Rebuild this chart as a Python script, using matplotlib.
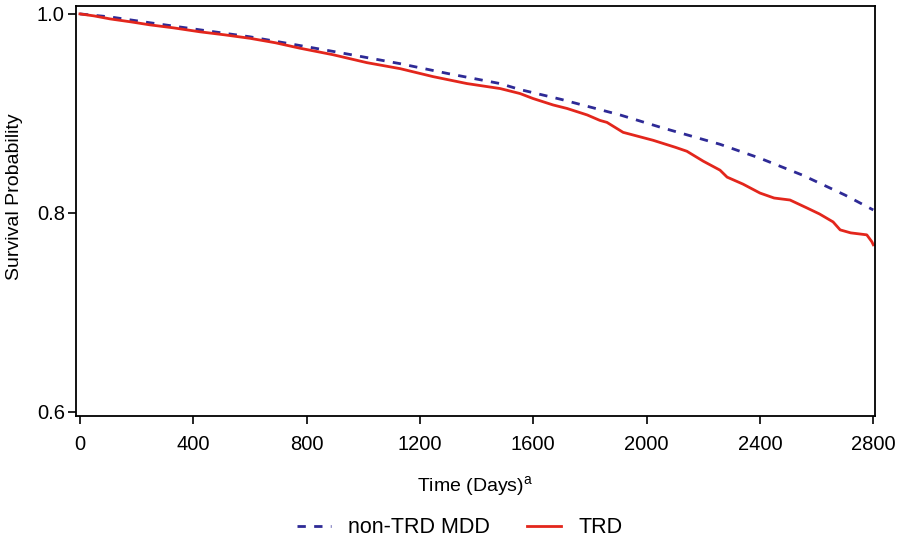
import numpy as np
import matplotlib.pyplot as plt

plt.rcParams['font.family'] = ['Liberation Sans', 'DejaVu Sans']

# non-TRD MDD survival (smooth curve)
days_mdd = [0, 106, 250, 424, 600, 741, 900, 1130, 1300, 1483, 1553, 1700,
            1906, 2050, 2259, 2400, 2550, 2700, 2800]
surv_mdd = [1.0, 0.997, 0.991, 0.984, 0.977, 0.970, 0.962, 0.950, 0.940,
            0.930, 0.924, 0.914, 0.8985, 0.886, 0.869, 0.855, 0.838, 0.818, 0.803]

# TRD survival (Kaplan-Meier)
days_trd = [0, 50, 106, 180, 247, 330, 424, 510, 600, 690, 777, 893, 1013,
            1130, 1246, 1366, 1483, 1553, 1599, 1670, 1719, 1790, 1835, 1860,
            1917, 1970, 2023, 2101, 2142, 2200, 2259, 2284, 2340, 2400, 2450,
            2506, 2566, 2610, 2658, 2683, 2720, 2777, 2795, 2800]
surv_trd = [1.0, 0.998, 0.995, 0.992, 0.989, 0.986, 0.982, 0.979, 0.9755,
            0.971, 0.9655, 0.959, 0.951, 0.945, 0.937, 0.930, 0.925, 0.920,
            0.915, 0.9085, 0.905, 0.8985, 0.893, 0.891, 0.881, 0.877, 0.873,
            0.866, 0.862, 0.852, 0.843, 0.836, 0.829, 0.820, 0.815, 0.813,
            0.805, 0.799, 0.791, 0.783, 0.780, 0.778, 0.771, 0.768]

fig = plt.figure(figsize=(8.98, 5.41), dpi=100)
ax = fig.add_axes([0.0846, 0.2311, 0.8898, 0.7579])

ax.plot(days_mdd, surv_mdd, color='#2E2A96', lw=2.0, ls=(0, (3, 3)),
        label='non-TRD MDD')
ax.plot(days_trd, surv_trd, color='#E3261C', lw=2.0, label='TRD')

ax.set_xlim(-14, 2806)
ax.set_ylim(0.596, 1.008)
ax.set_xticks(np.arange(0, 2801, 400))
ax.set_yticks([0.6, 0.8, 1.0])
ax.set_yticklabels(['0.6', '0.8', '1.0'])
ax.tick_params(direction='out', length=6, width=1.2, labelsize=14.5,
               colors='black')
ax.tick_params(axis='x', pad=8)
ax.tick_params(axis='y', pad=2)
for s in ax.spines.values():
    s.set_linewidth(1.3)

ax.set_xlabel('Time (Days)$^{\\mathregular{a}}$', fontsize=14, labelpad=14)
ax.set_ylabel('Survival Probability', fontsize=14)
ax.yaxis.set_label_coords(-0.066, 0.535)

ax.legend(loc='upper center', bbox_to_anchor=(0.48, -0.2), ncol=2,
          frameon=False, fontsize=15.5, handlelength=1.6, handletextpad=0.8,
          columnspacing=1.7)

plt.savefig('out.png', dpi=100)
